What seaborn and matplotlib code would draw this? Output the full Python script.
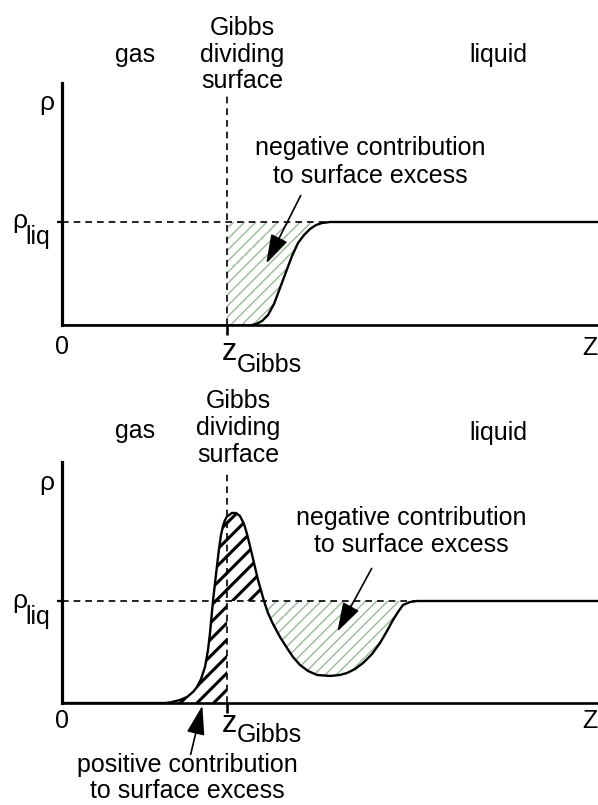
import numpy as np
import pandas as pd
import seaborn as sns
import matplotlib.pyplot as plt

# density profiles (z in arbitrary units, rho / rho_liq)
z_top = [0, 1.65, 1.88, 1.94, 2.00, 2.06, 2.12, 2.18, 2.24, 2.30, 2.36, 2.42,
         2.48, 2.54, 2.60, 2.68, 5.36]
rho_top = [0, 0, 0, 0.014, 0.043, 0.101, 0.208, 0.362, 0.517, 0.671, 0.797,
           0.874, 0.932, 0.971, 0.990, 1.0, 1.0]

z_bot = [0, 1.03, 1.08, 1.18, 1.25, 1.31, 1.35, 1.39, 1.43, 1.46, 1.48, 1.51,
         1.53, 1.55, 1.57, 1.59, 1.61, 1.63, 1.65, 1.70, 1.74, 1.78, 1.82,
         1.85, 1.88, 1.92, 1.96, 2.02,
         2.06, 2.11, 2.18, 2.25, 2.31, 2.38, 2.46, 2.55, 2.68, 2.78, 2.85,
         2.93, 3.01, 3.10, 3.18, 3.25, 3.31, 3.36, 3.41, 3.48, 3.55, 5.36]
rho_bot = [0, 0, 0.005, 0.029, 0.059, 0.108, 0.157, 0.235, 0.353, 0.520,
           0.686, 1.0, 1.176, 1.343, 1.510, 1.647, 1.735, 1.794, 1.828,
           1.863, 1.863, 1.833, 1.755, 1.657, 1.539, 1.373, 1.206, 1.0,
           0.882, 0.775, 0.647, 0.539, 0.451, 0.373, 0.314,
           0.275, 0.265, 0.275, 0.294, 0.333, 0.392, 0.480, 0.588, 0.706,
           0.814, 0.892, 0.961, 0.990, 1.0, 1.0]

z_gibbs = 1.65
rho_liq = 1.0

W, H = 598, 805
sns.set_style('white')
plt.rcParams['font.family'] = ['Liberation Sans', 'DejaVu Sans']
plt.rcParams['text.color'] = 'black'
fig = plt.figure(figsize=(W / 100, H / 100), dpi=100)

GREEN = '#98bb95'
FS = 18


def px(x, y):
    return x / W, 1 - y / H


def fig_text(x, y, s, size=FS, ha='center'):
    fig.text(*px(x, y), s, fontsize=size, ha=ha, va='baseline', color='black')


def hatch_fill(ax, x, y1, y2, where, color, hatch, lw):
    pc = ax.fill_between(x, y1, y2, where=where, interpolate=True,
                         facecolor='none', edgecolor=color, linewidth=0,
                         hatch=hatch, zorder=1)
    pc.set_hatch_linewidth(lw)


def panel(rect, z, rho, ytop, gibbs_top, liq_end):
    ax = fig.add_axes(rect)
    df = pd.DataFrame({'z': z, 'rho': rho})
    sns.lineplot(data=df, x='z', y='rho', ax=ax, color='black', lw=1.7,
                 estimator=None, sort=False, zorder=3)
    ax.set_xlim(0, 5.36)
    ax.set_ylim(0, ytop)
    for s in ['top', 'right']:
        ax.spines[s].set_visible(False)
    ax.spines['left'].set_linewidth(2.3)
    ax.spines['bottom'].set_linewidth(1.9)
    ax.spines['left'].set_color('black')
    ax.spines['bottom'].set_color('black')
    ax.set_xticks([z_gibbs])
    ax.set_yticks([rho_liq])
    ax.set_xticklabels([''])
    ax.set_yticklabels([''])
    ax.tick_params(axis='x', direction='out', length=7, width=1.9, bottom=True,
                   color='black')
    ax.tick_params(axis='y', direction='out', length=3.5, width=1.6, left=True,
                   color='black')
    ax.set_xlabel('')
    ax.set_ylabel('')
    ax.vlines(z_gibbs, 0, gibbs_top, colors='black', lw=1.2,
              linestyles=(0, (4, 3)), zorder=2)
    ax.hlines(rho_liq, 0, liq_end, colors='black', lw=1.2,
              linestyles=(0, (4, 3)), zorder=2)
    return ax


ARROW = dict(arrowstyle='-|>,head_length=0.9,head_width=0.28',
             color='black', lw=1.2, mutation_scale=20)

# ---- top panel: monotonic profile
base, sc = 325.5, 103.5
ax1 = panel([62 / W, 1 - 325.5 / H, 536 / W, (325.5 - 83) / H],
            z_top, rho_top, (base - 83) / sc, (base - 95) / sc, 2.68)
zt = np.array(z_top)
rt = np.array(rho_top)
hatch_fill(ax1, zt, rt, rho_liq, (zt >= z_gibbs) & (rt <= rho_liq),
           GREEN, '///', 1.0)
ax1.annotate('', xy=(2.03, 0.575), xytext=(2.40, 1.28), arrowprops=ARROW,
             zorder=4)

fig_text(135, 62, 'gas')
fig_text(242, 35, 'Gibbs')
fig_text(242, 62, 'dividing')
fig_text(242, 88, 'surface')
fig_text(498, 62, 'liquid')
fig_text(370, 155, 'negative contribution')
fig_text(370, 183, 'to surface excess')
fig_text(47, 110, 'ρ', size=19)
fig_text(20, 228, 'ρ', size=19)
fig_text(38, 244, 'liq')
fig_text(62, 354, '0')
fig_text(229, 360, 'z', size=22)
fig_text(237, 372, 'Gibbs', ha='left')
fig_text(590, 355, 'Z')

# ---- bottom panel: oscillating profile
base, sc = 703, 102
ax2 = panel([62 / W, 1 - 703 / H, 536 / W, (703 - 462) / H],
            z_bot, rho_bot, (base - 462) / sc, (base - 473) / sc, 3.55)
zb = np.array(z_bot)
rb = np.array(rho_bot)
hatch_fill(ax2, zb, 0, rb, zb <= z_gibbs, 'black', '//', 2.2)
hatch_fill(ax2, zb, rho_liq, rb, (zb >= z_gibbs) & (rb >= rho_liq),
           'black', '//', 2.2)
hatch_fill(ax2, zb, rb, rho_liq, (zb >= 2.0) & (rb <= rho_liq),
           GREEN, '///', 1.0)
ax2.annotate('', xy=(2.74, 0.676), xytext=(3.11, 1.343), arrowprops=ARROW,
             zorder=4)
ax2.annotate('', xy=(1.41, 0.0), xytext=(1.28, -0.53), arrowprops=ARROW,
             zorder=4, annotation_clip=False)

fig_text(135, 438, 'gas')
fig_text(238, 408, 'Gibbs')
fig_text(238, 435, 'dividing')
fig_text(238, 462, 'surface')
fig_text(498, 440, 'liquid')
fig_text(411, 525, 'negative contribution')
fig_text(411, 552, 'to surface excess')
fig_text(47, 490, 'ρ', size=19)
fig_text(20, 608, 'ρ', size=19)
fig_text(38, 624, 'liq')
fig_text(62, 728, '0')
fig_text(229, 732, 'z', size=22)
fig_text(237, 742, 'Gibbs', ha='left')
fig_text(590, 728, 'Z')
fig_text(187, 772, 'positive contribution')
fig_text(187, 798, 'to surface excess')

fig.savefig('out.png', dpi=100)
